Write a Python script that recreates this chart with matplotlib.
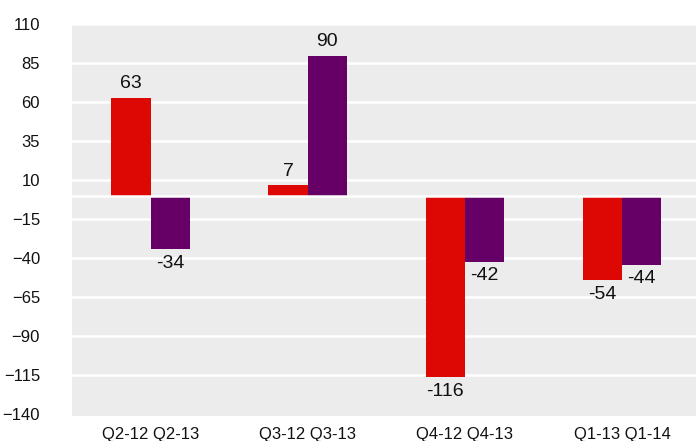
import matplotlib
matplotlib.use("Agg")
import matplotlib.pyplot as plt
import numpy as np

plt.rcParams['font.family'] = ['Liberation Sans', 'DejaVu Sans']

groups = ["Q2-12 Q2-13", "Q3-12 Q3-13", "Q4-12 Q4-13", "Q1-13 Q1-14"]
first_values = [63, 7, -116, -54]
second_values = [-34, 90, -42, -44]
yticks = [110, 85, 60, 35, 10, -15, -40, -65, -90, -115, -140]

red = "#DD0704"
purple = "#660066"
bg = "#EBECEB"

fig = plt.figure(figsize=(6.96, 4.41), dpi=100)
ax = fig.add_axes([72/696, 1-416/441, 1-72/696, (416-24)/441])
ax.set_facecolor(bg)

x = np.arange(len(groups))
w = 0.25
b1 = ax.bar(x - w/2, first_values, w, color=red, zorder=3)
b2 = ax.bar(x + w/2, second_values, w, color=purple, zorder=3)

for bars, vals in ((b1, first_values), (b2, second_values)):
    for rect, v in zip(bars, vals):
        cx = rect.get_x() + rect.get_width()/2
        if v >= 0:
            ax.annotate(str(v), (cx, v), xytext=(0, 4), textcoords="offset points",
                        ha="center", va="bottom", fontsize=14, color="#111111")
        else:
            ax.annotate(str(v), (cx, v), xytext=(0, -4), textcoords="offset points",
                        ha="center", va="top", fontsize=14, color="#111111")

ax.set_xlim(-0.5, 3.47)
ax.set_ylim(-141, 110.3)
ax.set_yticks(yticks)
ax.set_xticks(x)
ax.set_xticklabels(groups, fontsize=12, color="#111111")
ax.tick_params(axis='y', length=0, pad=23, labelsize=12, labelcolor="#111111")
ax.tick_params(axis='x', length=0, pad=8)
for t in yticks:
    if t != -140:
        ax.axhline(t, color="white", linewidth=1.8, zorder=1)
ax.axhline(0, color="white", linewidth=1.8, zorder=4)
for s in ax.spines.values():
    s.set_visible(False)

fig.savefig("out.png", dpi=100)
